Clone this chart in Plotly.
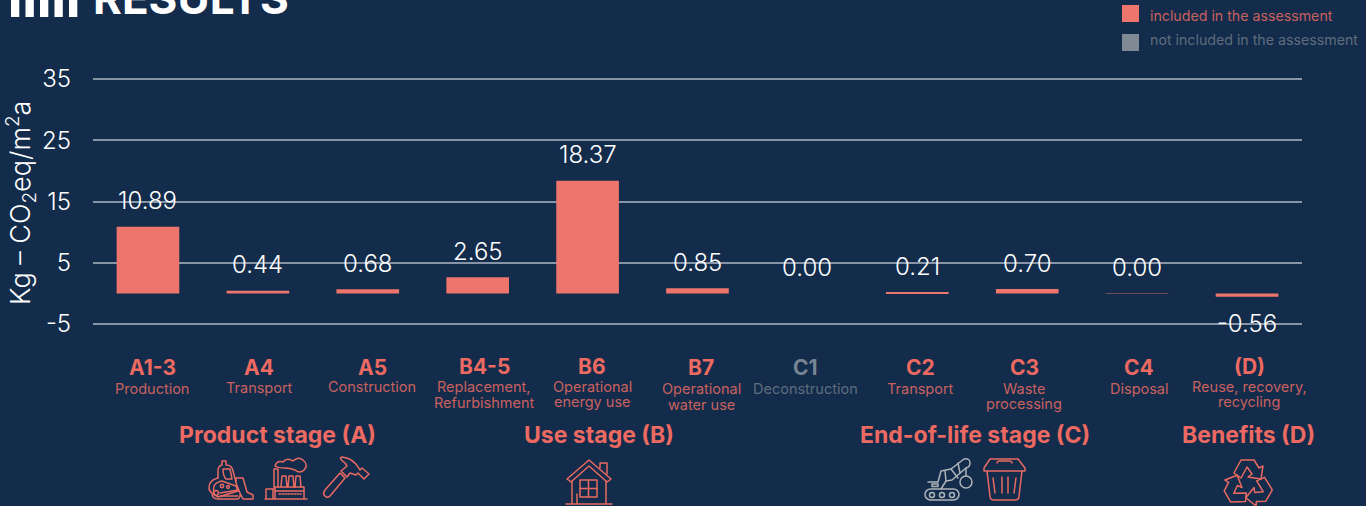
import base64
import plotly.graph_objects as go

# ---- data ----
codes = ["A1-3", "A4", "A5", "B4-5", "B6", "B7", "C1", "C2", "C3", "C4", "(D)"]
descriptions = [["Production"], ["Transport"], ["Construction"], ["Replacement,", "Refurbishment"],
                ["Operational", "energy use"], ["Operational", "water use"], ["Deconstruction"],
                ["Transport"], ["Waste", "processing"], ["Disposal"], ["Reuse, recovery,", "recycling"]]
values = [10.89, 0.44, 0.68, 2.65, 18.37, 0.85, 0.00, 0.21, 0.70, 0.02, -0.56]
value_labels = ["10.89", "0.44", "0.68", "2.65", "18.37", "0.85", "0.00", "0.21", "0.70", "0.00", "-0.56"]
included = [True, True, True, True, True, True, False, True, True, True, True]
stages = ["Product stage (A)", "Use stage (B)", "End-of-life stage (C)", "Benefits (D)"]
y_ticks = [-5, 5, 15, 25, 35]
y_tick_labels = ["-5", "5", "15", "25", "35"]

# ---- layout constants ----
W, H = 1366, 506
L, R = 93, 1302
# plot area is 2px taller than the outer gridlines on each side, so they stay drawn
PAD = 2
T, B = 79 - PAD, 324 + PAD
UNIT_PX = 245 / 40
Y_PAD = PAD / UNIT_PX
BG = "#132c4b"
BAR = "#ee756b"
RED = "#ec6a61"
DIM = "#c8615f"
GREY = "#778491"
GREY_DIM = "#5f6d7e"
FONT = "Inter"

def px(x, y):
    return (x - L) / (R - L), (B - y) / (B - T)

code_y = [368, 368, 367, 366, 366, 368, 368, 368, 368, 368, 366]
desc_y = [388, 387, 386, 386, 386, 388, 388, 388, 388, 388, 386]
desc_x = [152, 259, 372, 484, 592, 701, 805, 920, 1024, 1139, 1249]
stage_x = [277, 599, 975, 1248]
LINE_STEP = 16

bar_colors = [BAR if i else GREY for i in included]
bar_colors[9] = "#6f4a57"

fig = go.Figure(go.Bar(
    x=codes, y=values, width=0.57,
    marker=dict(color=bar_colors, line=dict(width=0)),
    showlegend=False, hoverinfo="skip",
))

ann = []
for i, (c, d) in enumerate(zip(codes, descriptions)):
    off = 26 if values[i] >= 0 else -27
    ann.append(dict(x=c, xref="x", y=values[i], yref="y", yshift=off, text=value_labels[i],
                    showarrow=False, yanchor="middle", xanchor="center",
                    font=dict(family=FONT, size=24, color="#ffffff", weight=300)))
    cx, cy = px(desc_x[i], code_y[i])
    ann.append(dict(x=cx, xref="paper", y=cy, yref="paper", text=f"<b>{c}</b>", showarrow=False,
                    xanchor="center", yanchor="middle",
                    font=dict(family=FONT, size=21, color=RED if included[i] else GREY)))
    for k, line in enumerate(d):
        dx, dy = px(desc_x[i], desc_y[i] + k * LINE_STEP)
        ann.append(dict(x=dx, xref="paper", y=dy, yref="paper", text=line, showarrow=False,
                        xanchor="center", yanchor="middle", align="center",
                        font=dict(family=FONT, size=14.5, color=DIM if included[i] else GREY_DIM)))

for s_, sx in zip(stages, stage_x):
    ax, ay = px(sx, 435)
    ann.append(dict(x=ax, xref="paper", y=ay, yref="paper", text=f"<b>{s_}</b>", showarrow=False,
                    xanchor="center", yanchor="middle", font=dict(family=FONT, size=23, color=RED)))

ax, ay = px(91, -2)
ann.append(dict(x=ax, xref="paper", y=ay, yref="paper", text="<b>RESULTS</b>", showarrow=False,
                xanchor="left", yanchor="middle", font=dict(family=FONT, size=44, color="#ffffff")))
ax, ay = px(21, 203)
ann.append(dict(x=ax, xref="paper", y=ay, yref="paper", textangle=-90,
                text="Kg – CO<sub>2</sub>eq/m<sup>2</sup>a", showarrow=False,
                xanchor="center", yanchor="middle",
                font=dict(family=FONT, size=27, color="#ffffff", weight=300)))
ax, ay = px(1148, 15)
ann.append(dict(x=ax, xref="paper", y=ay, yref="paper", text="included in the assessment", showarrow=False,
                xanchor="left", yanchor="middle", font=dict(family=FONT, size=14.2, color=DIM)))
ax, ay = px(1148, 39)
ann.append(dict(x=ax, xref="paper", y=ay, yref="paper", text="not included in the assessment", showarrow=False,
                xanchor="left", yanchor="middle", font=dict(family=FONT, size=14.2, color=GREY_DIM)))

# ---- decorative pictograms, drawn as one canvas-sized vector overlay ----
def s(color, body):
    return f'<g fill="none" stroke="{color}" stroke-width="1.5" stroke-linejoin="round" stroke-linecap="round">{body}</g>'

header = "".join(f'<rect x="{x}" y="-4" width="8.3" height="21" fill="#fff"/>' for x in (11, 25.5, 40, 54.5, 69))
legend_sq = f'<rect x="1122" y="5" width="17" height="17" fill="{BAR}"/><rect x="1122" y="34" width="17" height="17" fill="#808a94"/>'

dozer = s("#e96a62",
  '<path d="M218 478 L218 471 Q218 466 222 465 L222 461 L226 461 L226 465 Q232 465 233 471 L236 482"/>'
  '<path d="M223 469 L230 469 L232 479 L226 479 Q223 476 223 469Z"/>'
  '<path d="M218 478 Q209 480 209 488 Q209 491 212 493 Q212 499 218 499 L238 499 Q241 497 240 493 L236 483 L236 478 L243 478 L247 492 L253 495 L253 499 L243 499 L240 493"/>'
  '<path d="M214 486 Q216 482 222 481 L236 486 L238 491 L218 497 Q212 495 214 486Z"/>'
  '<circle cx="222" cy="486" r="1.7"/><circle cx="228" cy="487" r="1.4"/><circle cx="216" cy="493" r="2.4"/>'
  '<path d="M220 493 L238 490 M220 496 L238 496"/>')
factory = s("#e96a62",
  '<path d="M265 499 L307 499 M266 499 L266 489 L273 489 L273 499 M275 499 L275 487 L304 487 L304 499 M275 491 L304 491"/>'
  '<path d="M274 489 L274 469 L278 469 L278 487"/>'
  '<path d="M281 487 L282 476 L286 476 L287 487 M288 487 L289 476 L293 476 L294 487 M295 487 L296 476 L300 476 L301 487"/>'
  '<path d="M275 466 Q277 460 283 462 Q287 457 293 461 Q298 456 303 460 Q309 465 304 470 Q300 474 295 470 Q290 468 285 468 Q278 468 275 466Z"/>'
  '<path d="M279 494 L301 494" stroke-dasharray="1.5 1.5"/>')
hammer = s("#e96a62",
  '<path d="M324 495 Q323 492 325 490 L340 473 L345 478 L330 496 Q327 499 324 495Z"/>'
  '<path d="M341 471 L347 477 L350 473 L356 475 L358 473 L364 479 L369 474 L362 468 L360 470 Q354 458 342 457 Q338 458 345 463 L347 466Z"/>')
house = s("#e96a62",
  '<path d="M567 479 L589 460 L611 479 L607 482 L589 466 L571 482Z"/>'
  '<path d="M600 468 L600 463 L607 463 L607 474"/>'
  '<path d="M572 481 L572 504 M606 481 L606 504 M566 504 L612 504 M577 504 L577 494"/>'
  '<rect x="580" y="480" width="17" height="17"/><path d="M588.5 480 L588.5 497 M580 488.5 L597 488.5"/>')
crane = s("#aeb3b8",
  '<path d="M928 482 L938 482 L941 471 L951 469 L964 459 Q970 458 970 463 Q970 467 966 468 L952 480 L946 481 L941 489"/>'
  '<path d="M945 471 L946 481 M951 469 L958 478 M958 463 L960 473 M966 468 L966 476"/>'
  '<circle cx="966" cy="482" r="6"/>'
  '<rect x="925" y="489" width="34" height="11" rx="5.5"/>'
  '<circle cx="932" cy="495" r="2.5"/><circle cx="942" cy="495" r="2.5"/><circle cx="952" cy="495" r="2.5"/>'
  '<rect x="932" y="484" width="6" height="2.5"/>')
binn = s("#e96a62",
  '<path d="M984 468 L990 459 L1018 459 L1025 468 L1025 471 L984 471Z"/>'
  '<path d="M987 471 L990 496 Q990 500 994 500 L1015 500 Q1019 500 1019 496 L1022 471"/>'
  '<path d="M997 463 Q997 461 1000 461 L1009 461 Q1012 461 1012 463"/>'
  '<path d="M993 478 L995 493 M1002 477 L1002 493 M1008 477 L1008 493 M1016 478 L1014 493"/>')
arrow = 'M1234 473 L1241 460 L1254 460 L1259 468 L1263 466 L1261 479 L1248 477 L1252 474 L1247 467 L1241 478 Z'
recycle = s("#e96a62", "".join(f'<path d="{arrow}" transform="rotate({a} 1248 484)"/>' for a in (0, 120, 240)))

svg = (f'<svg xmlns="http://www.w3.org/2000/svg" width="{W}" height="{H}" viewBox="0 0 {W} {H}">'
       + header + legend_sq + dozer + factory + hammer + house + crane + binn + recycle + '</svg>')
uri = "data:image/svg+xml;base64," + base64.b64encode(svg.encode()).decode()
ix, iy = px(0, 0)

fig.update_layout(
    width=W, height=H, autosize=False,
    margin=dict(l=L, r=W - R, t=T, b=H - B, pad=0),
    paper_bgcolor=BG, plot_bgcolor=BG,
    bargap=0.43,
    annotations=ann,
    images=[dict(source=uri, xref="paper", yref="paper", x=ix, y=iy, xanchor="left", yanchor="top",
                 sizex=W / (R - L), sizey=H / (B - T), sizing="stretch", layer="above")],
    xaxis=dict(type="category", categoryorder="array", categoryarray=codes, showticklabels=False,
               showgrid=False, zeroline=False, showline=False, ticks="", range=[-0.5, 10.5]),
    yaxis=dict(range=[-5 - Y_PAD, 35 + Y_PAD], tickvals=y_ticks, ticktext=y_tick_labels, showgrid=True,
               gridcolor="#8795a6", gridwidth=2,
               zeroline=False, showline=False, ticks="", ticklabelstandoff=21,
               tickfont=dict(family=FONT, size=24, color="#ffffff", weight=300)),
)

fig.write_html("out.html", config={"displayModeBar": False},
               post_script="document.body.style.margin='0';document.documentElement.style.background='" + BG + "';")
